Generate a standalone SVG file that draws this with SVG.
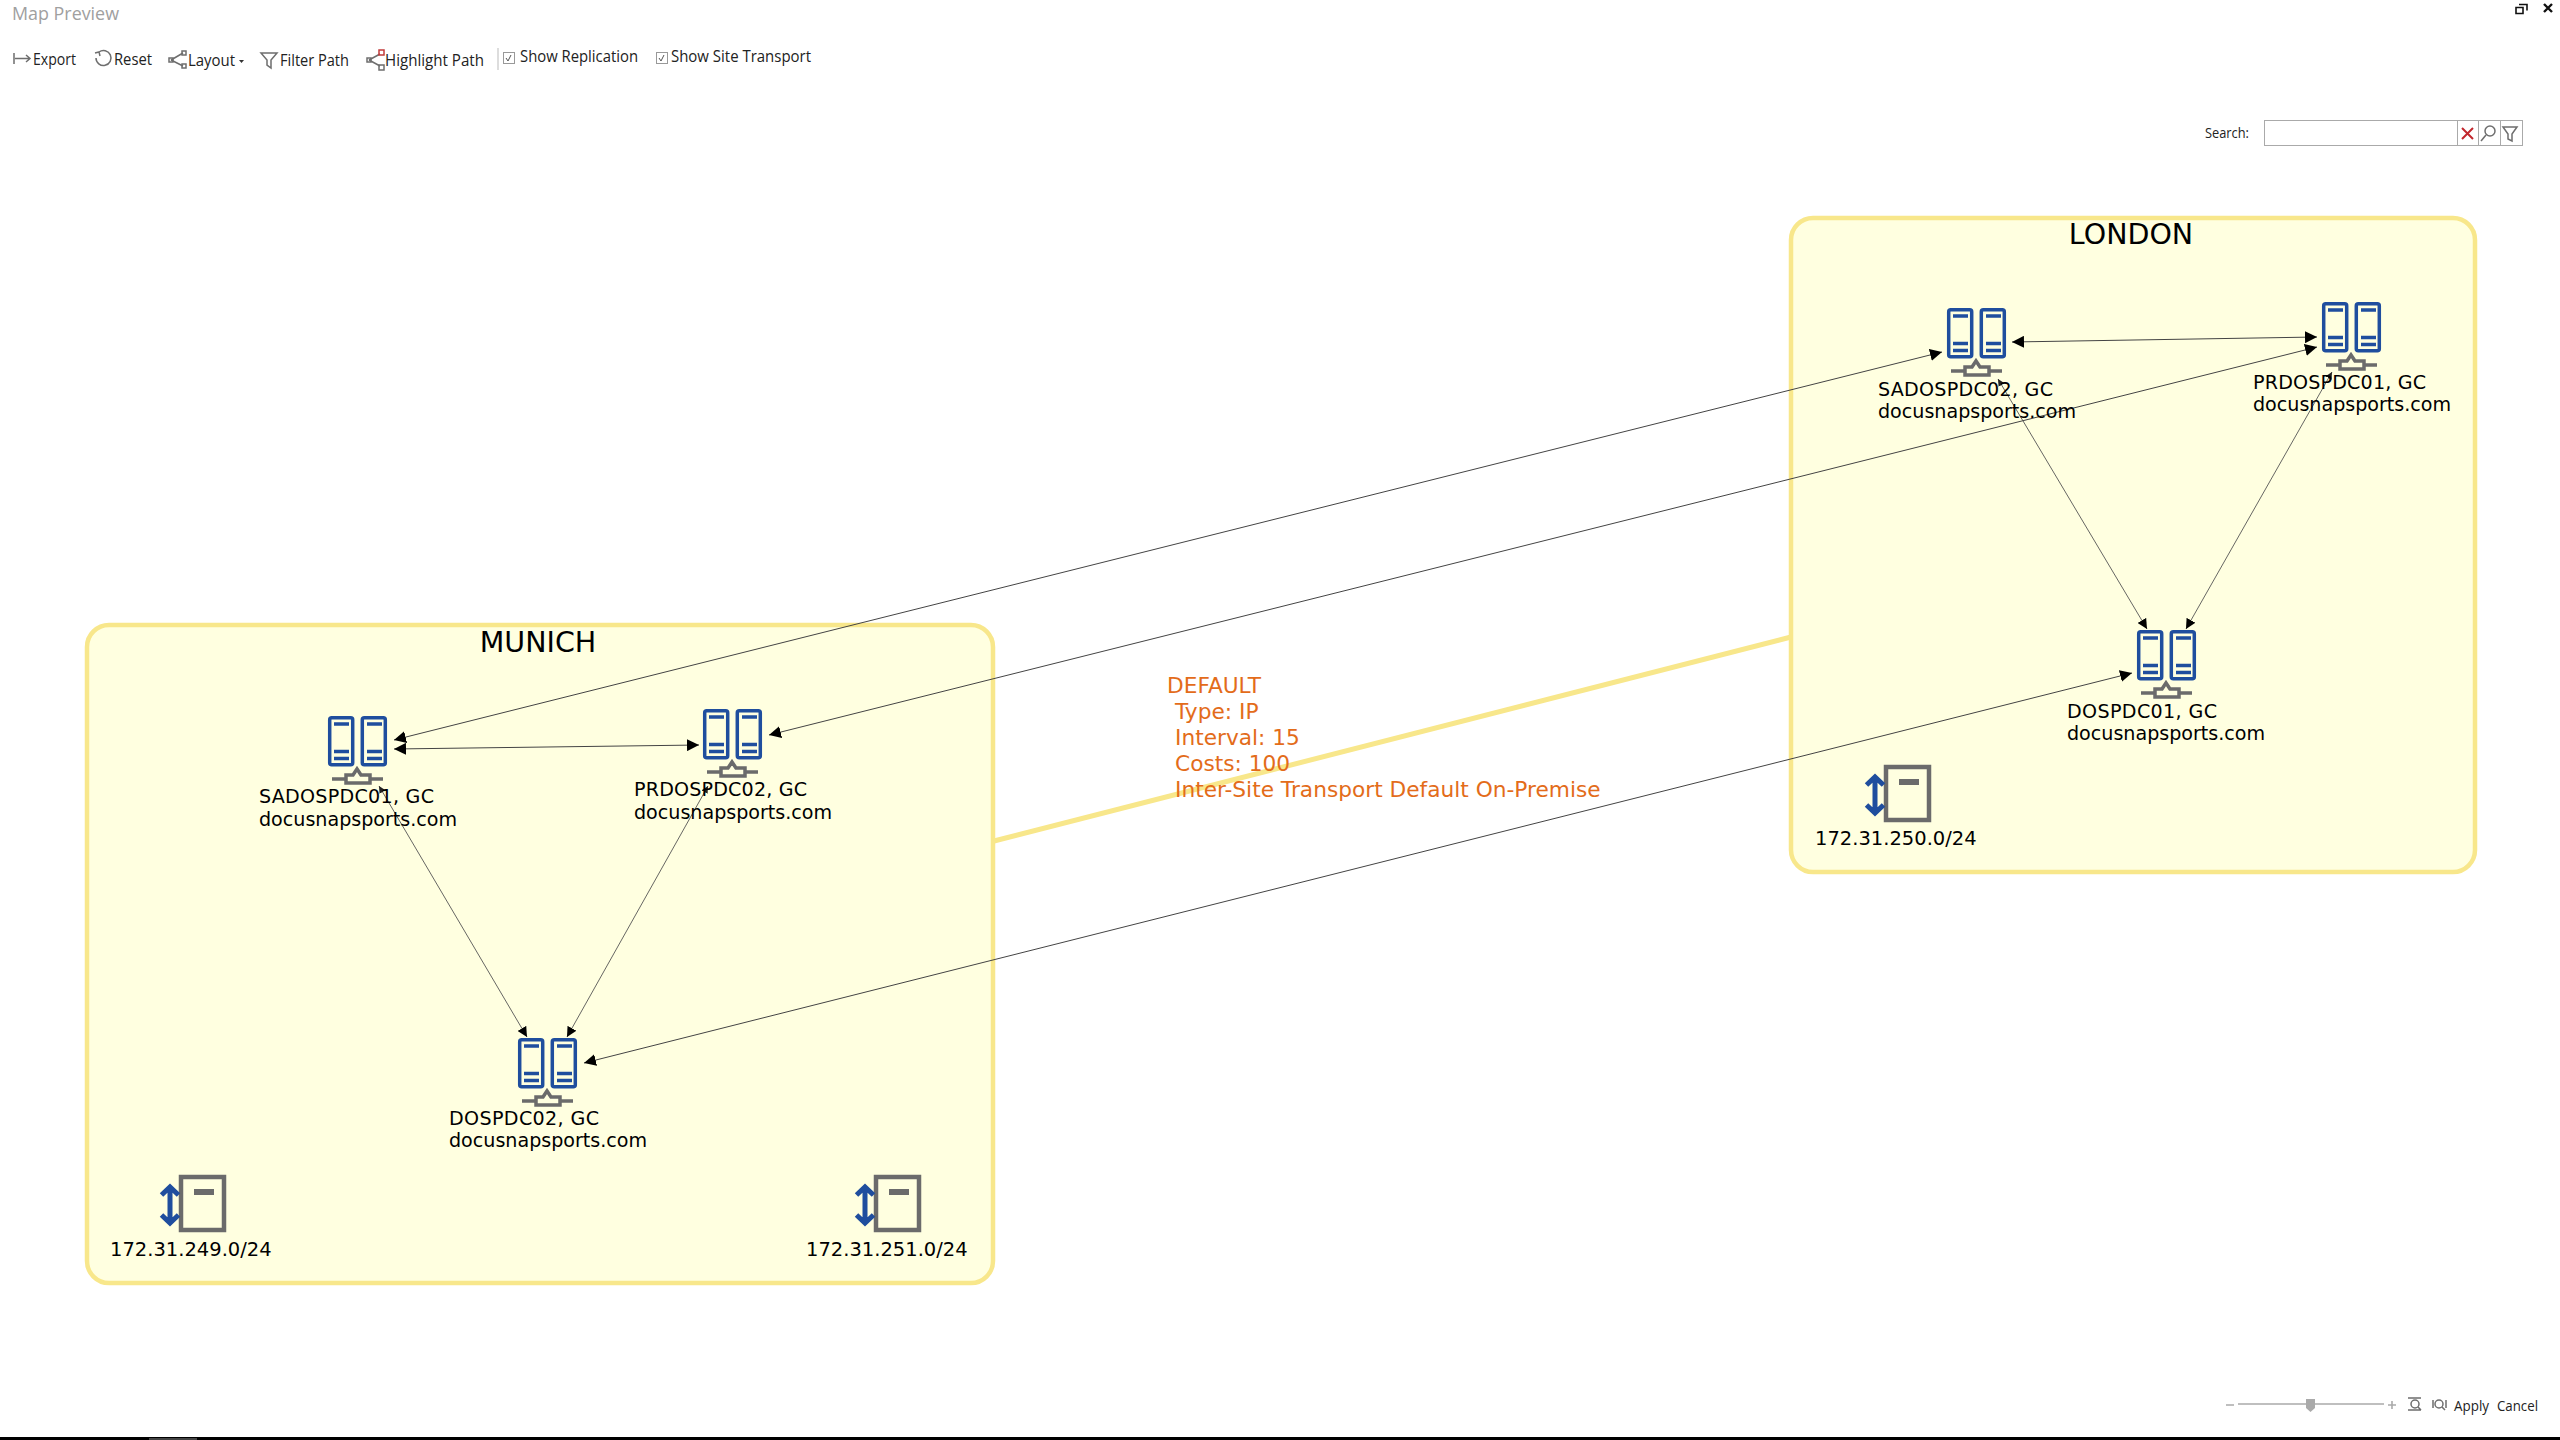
<svg xmlns="http://www.w3.org/2000/svg" xmlns:xlink="http://www.w3.org/1999/xlink" width="2560" height="1440" viewBox="0 0 2560 1440">
<style>
.site{fill:#ffffe0;stroke:#f8e78b;stroke-width:4.5}
.lbl{font-family:"DejaVu Sans",sans-serif;font-size:19.1px;fill:#000}
.net{font-family:"DejaVu Sans",sans-serif;font-size:19.5px;fill:#000}
.title{font-family:"DejaVu Sans",sans-serif;font-size:28.500px;fill:#000;text-anchor:middle}
.or{font-family:"DejaVu Sans",sans-serif;font-size:21.7px;fill:#e36c1a}
.ui{font-family:"Open Sans",sans-serif;font-size:16px;fill:#222}
.icon{fill:none;stroke:#6e6e6e;stroke-width:1.5}
.rep{stroke:#444;stroke-width:1;fill:none;marker-start:url(#ah);marker-end:url(#ah)}
.down{stroke:#555;stroke-width:.9;fill:none;marker-start:url(#ahs);marker-end:url(#ahm)}
.blue{fill:none;stroke:#1f4e9e;stroke-width:3.5}
.gray{fill:none;stroke:#6b6b6b}
</style>
<defs>
<marker id="ah" markerUnits="userSpaceOnUse" markerWidth="13" markerHeight="12" refX="12" refY="6" orient="auto-start-reverse"><path d="M0 0L12 6L0 12z" fill="#000"/></marker>
<marker id="ahm" markerUnits="userSpaceOnUse" markerWidth="11" markerHeight="10" refX="10" refY="5" orient="auto-start-reverse"><path d="M0 0L10 5L0 10z" fill="#000"/></marker>
<marker id="ahs" markerUnits="userSpaceOnUse" markerWidth="8" markerHeight="8" refX="7" refY="3.500" orient="auto-start-reverse"><path d="M0 0L7 3.500L0 7z" fill="#222"/></marker>
<g id="server">
<rect class="blue" x="1.700" y="1.700" width="23" height="47" rx="2"/>
<rect class="blue" x="34.300" y="1.700" width="23" height="47" rx="2"/>
<path class="blue" d="M6 8H21M6 35.500H21M6 42.500H21M39 8H54M39 35.500H54M39 42.500H54"/>
<path class="gray" stroke-width="3.500" d="M4 63H18M42 63H55M18 59h7l4-6 4 6h9v8H18z"/>
</g>
<g id="subnet">
<rect class="gray" stroke-width="4.500" x="102" y="2" width="43" height="53"/>
<path class="gray" stroke-width="6" d="M115 17H135"/>
<path fill="none" stroke="#1f4e9e" stroke-width="5" d="M91 12V48M82.500 20L91 12L99.500 20M82.500 40L91 48L99.500 40"/>
</g>
</defs>
<rect width="2560" height="1440" fill="#fff"/>
<g id="window-chrome">
<text x="12" y="20" font-family="Open Sans,sans-serif" font-size="19" fill="#a0a0a0" textLength="107" lengthAdjust="spacingAndGlyphs">Map Preview</text>
<path d="M2516 7.500h7v6h-7zM2519 4.500h8v6" fill="#fff" stroke="#111" stroke-width="1.600"/>
<path d="M2544 4L2552 12M2552 4L2544 12" stroke="#111" stroke-width="2.400"/>
<rect x="0" y="1437" width="2560" height="3" fill="#000"/>
<rect x="149" y="1438" width="48" height="2" fill="#444"/>
</g>
<g id="toolbar">
<path class="icon" d="M14 53v11M15 58.500H30M26 55l4 3.500-4 3.500"/>
<text class="ui" x="33" y="65" textLength="43" lengthAdjust="spacingAndGlyphs">Export</text>
<path class="icon" d="M99 52a7.500 7.500 0 1 1-3 6M95 53l4-1 1 4"/>
<text class="ui" x="114" y="65" textLength="38" lengthAdjust="spacingAndGlyphs">Reset</text>
<path class="icon" d="M171 60l12-7M171 60l12 6"/><rect class="icon" x="169" y="58" width="4" height="4"/><rect class="icon" x="182" y="51" width="4" height="4"/><rect class="icon" x="182" y="64" width="4" height="4"/>
<text class="ui" x="188" y="66" textLength="47" lengthAdjust="spacingAndGlyphs">Layout</text>
<path d="M239 60h5l-2.500 3z" fill="#333"/>
<path class="icon" d="M261 53h16l-6 7v8l-4-3v-5z"/>
<text class="ui" x="280" y="66" textLength="69" lengthAdjust="spacingAndGlyphs">Filter Path</text>
<path class="icon" d="M369 60l11-6M369 60l11 6"/><rect class="icon" x="367" y="58" width="4" height="4"/><rect x="379" y="50" width="5" height="5" fill="none" stroke="#c23b3b" stroke-width="1.500"/><rect class="icon" x="379" y="65" width="5" height="5"/>
<text class="ui" x="385" y="66" textLength="99" lengthAdjust="spacingAndGlyphs">Highlight Path</text>
<path d="M498 48V70" stroke="#bbb" stroke-width="1"/>
<rect x="503.500" y="52.500" width="11" height="11" fill="#fff" stroke="#999"/><path d="M506 58l2 3 3-6" fill="none" stroke="#555"/>
<text class="ui" x="520" y="62" textLength="118" lengthAdjust="spacingAndGlyphs">Show Replication</text>
<rect x="656.500" y="52.500" width="11" height="11" fill="#fff" stroke="#999"/><path d="M659 58l2 3 3-6" fill="none" stroke="#555"/>
<text class="ui" x="671" y="62" textLength="140" lengthAdjust="spacingAndGlyphs">Show Site Transport</text>
</g>
<g id="search">
<text class="ui" x="2205" y="138" style="font-size:14px" textLength="44" lengthAdjust="spacingAndGlyphs">Search:</text>
<rect x="2264.500" y="120.500" width="258" height="25" fill="#fff" stroke="#aaa" stroke-width="1"/>
<path d="M2457.500 120V145M2478.500 120V145M2500.500 120V145" stroke="#aaa"/>
<path d="M2462 128L2473 139M2473 128L2462 139" stroke="#c1272d" stroke-width="2"/>
<circle cx="2490" cy="131" r="5" class="icon"/><path class="icon" d="M2486 135l-5 6"/>
<path class="icon" d="M2503 127h14l-5 7v7l-4-2v-5z"/>
</g>
<g id="site-munich"><rect class="site" x="87" y="625" width="906" height="658" rx="22"/><text class="title" x="538" y="652">MUNICH</text></g>
<g id="site-london"><rect class="site" x="1791" y="218" width="684" height="654" rx="22"/><text class="title" x="2131" y="244">LONDON</text></g>
<g id="connectors">
<line x1="994" y1="841" x2="1791" y2="637" stroke="#f8e78b" stroke-width="5"/>
<line class="rep" x1="394" y1="740" x2="1942" y2="352"/>
<line class="rep" x1="394" y1="749" x2="699" y2="745"/>
<line class="rep" x1="2012" y1="342" x2="2317" y2="337"/>
<line class="rep" x1="769" y1="735" x2="2317" y2="347"/>
<line class="rep" x1="584" y1="1063" x2="2132" y2="673"/>
<line class="down" x1="379" y1="786" x2="527" y2="1037"/>
<line class="down" x1="708" y1="786" x2="567" y2="1037"/>
<line class="down" x1="1998" y1="379" x2="2147" y2="629"/>
<line class="down" x1="2332" y1="372" x2="2186" y2="629"/>
</g>
<g id="transport-label">
<text class="or" x="1167" y="693">DEFAULT</text>
<text class="or" x="1175" y="719">Type: IP</text>
<text class="or" x="1175" y="745">Interval: 15</text>
<text class="or" x="1175" y="771">Costs: 100</text>
<text class="or" x="1175" y="797">Inter-Site Transport Default On-Premise</text>
</g>
<g id="SADOSPDC01"><use xlink:href="#server" href="#server" x="328" y="716"/><text class="lbl" x="259" y="803" textLength="175" lengthAdjust="spacing">SADOSPDC01, GC</text><text class="lbl" x="259" y="826">docusnapsports.com</text></g>
<g id="PRDOSPDC02"><use xlink:href="#server" href="#server" x="703" y="709"/><text class="lbl" x="634" y="796" textLength="173" lengthAdjust="spacing">PRDOSPDC02, GC</text><text class="lbl" x="634" y="819">docusnapsports.com</text></g>
<g id="DOSPDC02"><use xlink:href="#server" href="#server" x="518" y="1038"/><text class="lbl" x="449" y="1125" textLength="150" lengthAdjust="spacing">DOSPDC02, GC</text><text class="lbl" x="449" y="1147">docusnapsports.com</text></g>
<g id="SADOSPDC02"><use xlink:href="#server" href="#server" x="1947" y="308"/><text class="lbl" x="1878" y="396" textLength="175" lengthAdjust="spacing">SADOSPDC02, GC</text><text class="lbl" x="1878" y="418">docusnapsports.com</text></g>
<g id="PRDOSPDC01"><use xlink:href="#server" href="#server" x="2322" y="302"/><text class="lbl" x="2253" y="389" textLength="173" lengthAdjust="spacing">PRDOSPDC01, GC</text><text class="lbl" x="2253" y="411">docusnapsports.com</text></g>
<g id="DOSPDC01"><use xlink:href="#server" href="#server" x="2137" y="630"/><text class="lbl" x="2067" y="718" textLength="150" lengthAdjust="spacing">DOSPDC01, GC</text><text class="lbl" x="2067" y="740">docusnapsports.com</text></g>
<g id="subnet-249"><use xlink:href="#subnet" href="#subnet" x="79" y="1175"/><text class="net" x="110" y="1256">172.31.249.0/24</text></g>
<g id="subnet-251"><use xlink:href="#subnet" href="#subnet" x="774" y="1175"/><text class="net" x="806" y="1256">172.31.251.0/24</text></g>
<g id="subnet-250"><use xlink:href="#subnet" href="#subnet" x="1784" y="765"/><text class="net" x="1815" y="845">172.31.250.0/24</text></g>
<g id="zoom-bar">
<path d="M2226 1405H2234M2238 1404H2384M2388 1405H2396M2392 1401V1409" stroke="#aaa" stroke-width="1.600"/>
<path d="M2306 1399h9v9l-4.500 4-4.500-4z" fill="#aaa"/>
<circle cx="2415" cy="1404" r="4" class="icon"/><path class="icon" d="M2408 1398h13M2408 1410h13M2418 1407l3 3"/>
<circle cx="2439" cy="1404" r="4" class="icon"/><path class="icon" d="M2433 1400v8M2446 1400v8M2442 1407l3 3"/>
<text class="ui" x="2454" y="1411" textLength="35" lengthAdjust="spacingAndGlyphs" style="font-size:14px">Apply</text>
<text class="ui" x="2497" y="1411" textLength="41" lengthAdjust="spacingAndGlyphs" style="font-size:14px">Cancel</text>
</g>
</svg>
